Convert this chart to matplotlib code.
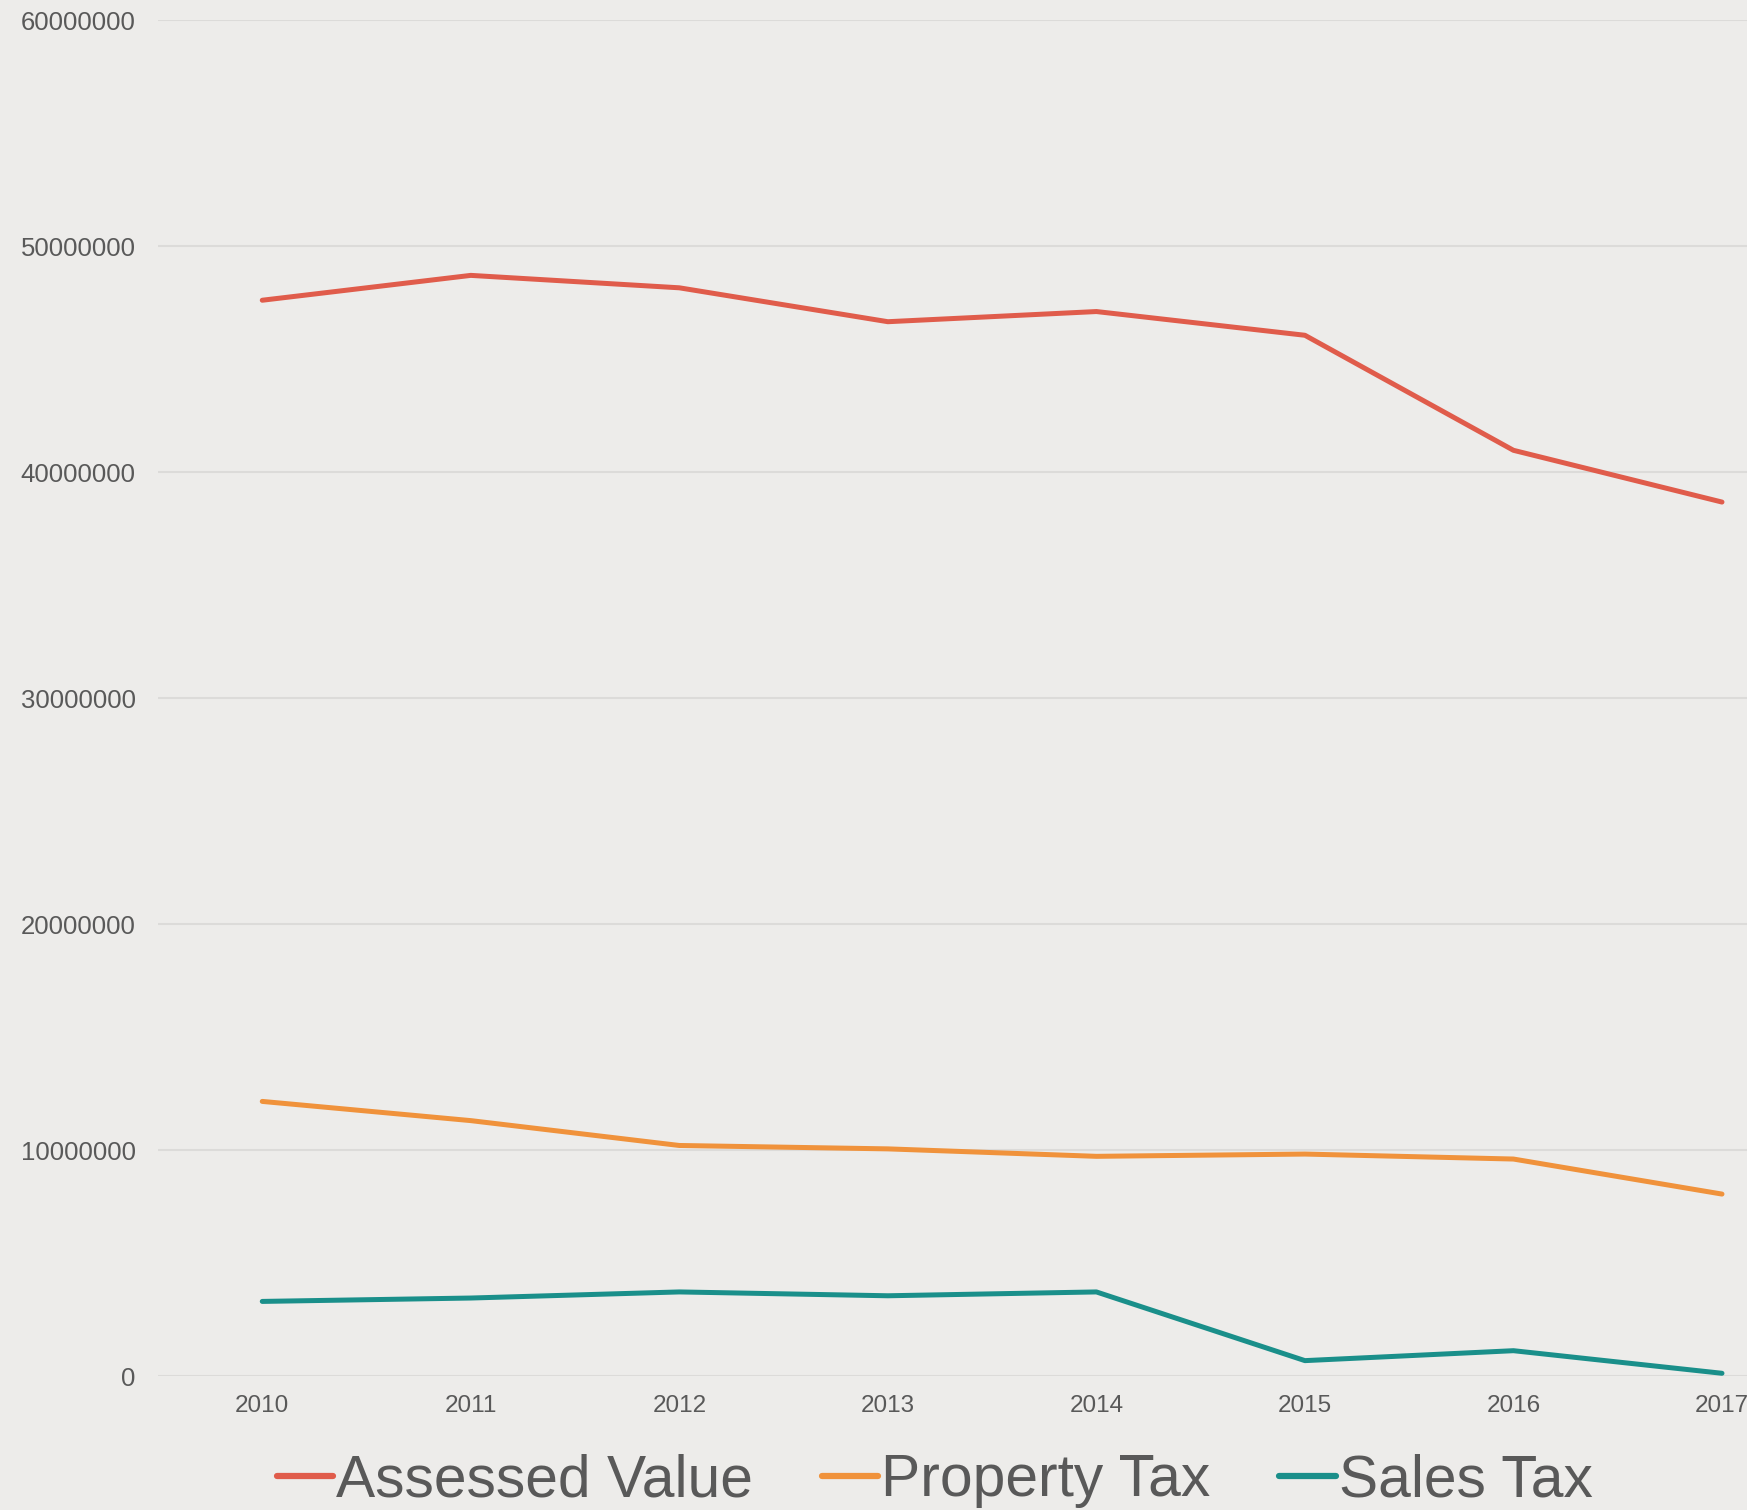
import matplotlib
matplotlib.use('Agg')
import matplotlib.pyplot as plt
from matplotlib.ticker import FuncFormatter

# data
years = [2010, 2011, 2012, 2013, 2014, 2015, 2016, 2017]
assessed_value = [47600000, 48700000, 48150000, 46650000, 47100000, 46050000, 40960000, 38670000]
property_tax = [12150000, 11300000, 10200000, 10050000, 9720000, 9820000, 9600000, 8050000]
sales_tax = [3300000, 3450000, 3720000, 3550000, 3720000, 680000, 1120000, 120000]
y_ticks = [0, 10000000, 20000000, 30000000, 40000000, 50000000, 60000000]

# colours
bg = '#edecea'
grid_col = '#dcdbd9'
text_col = '#595959'
red = '#e05c4b'
orange = '#f0923b'
teal = '#1a8f8a'

font = ['Liberation Sans', 'DejaVu Sans']

fig = plt.figure(figsize=(17.47, 15.10), dpi=100, facecolor=bg)
ax = fig.add_axes([158/1747, 1 - 1376/1510, 1 - 158/1747, (1376 - 20)/1510])
ax.set_facecolor(bg)

# the three series
ax.plot(years, assessed_value, color=red, lw=3.6, label='Assessed Value', solid_capstyle='round')
ax.plot(years, property_tax, color=orange, lw=3.6, label='Property Tax', solid_capstyle='round')
ax.plot(years, sales_tax, color=teal, lw=3.6, label='Sales Tax', solid_capstyle='round')

# axes setup
ax.set_ylim(0, 60000000)
ax.set_xlim(2009.5, 2017.12)
ax.set_yticks(y_ticks)
ax.set_xticks(years)
ax.yaxis.set_major_formatter(FuncFormatter(lambda v, p: '%d' % v))
ax.grid(axis='y', color=grid_col, lw=1.5)
ax.set_axisbelow(True)
for s in ax.spines.values():
    s.set_visible(False)
ax.tick_params(axis='both', length=0, colors=text_col)
ax.tick_params(axis='y', pad=16)
ax.tick_params(axis='x', pad=14)
for lbl in ax.get_yticklabels():
    lbl.set_fontfamily(font)
    lbl.set_fontsize(18.5)
for lbl in ax.get_xticklabels():
    lbl.set_fontfamily(font)
    lbl.set_fontsize(17.5)

# legend at the bottom
leg = fig.legend(loc='center', bbox_to_anchor=(0.535, 1 - 1481/1510), ncol=3,
                 frameon=False, handlelength=0.96, handletextpad=0.05,
                 columnspacing=1.17, prop={'family': font, 'size': 42.3})
for t in leg.get_texts():
    t.set_color(text_col)
for h in leg.get_lines():
    h.set_linewidth(4.5)

fig.savefig('out.png', dpi=100, facecolor=bg)
